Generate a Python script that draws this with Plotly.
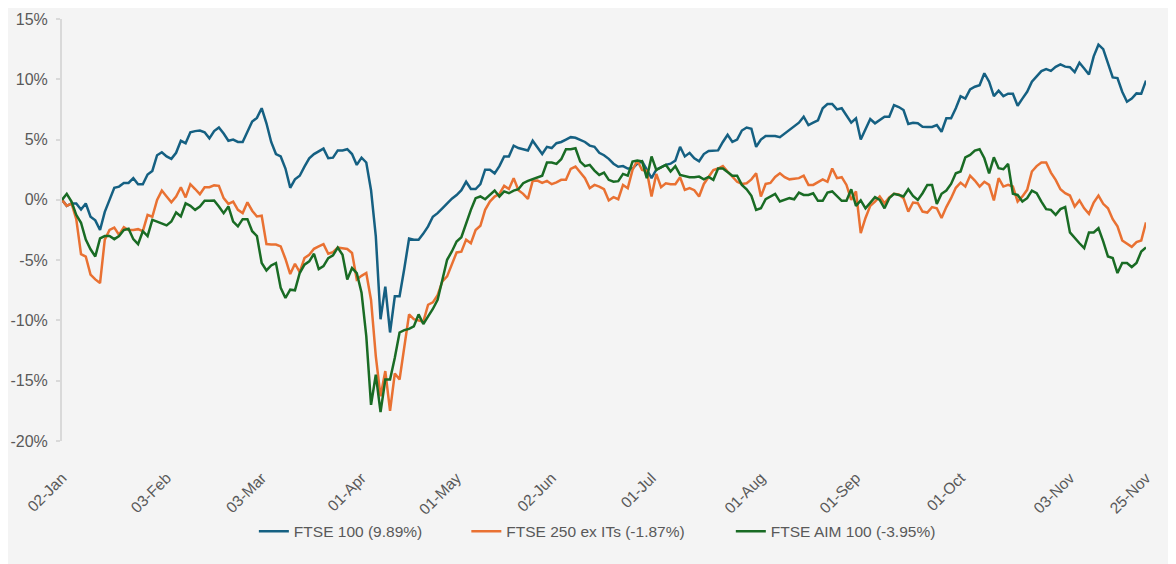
import pandas as pd
import plotly.graph_objects as go

# trading days 2025 (UK), 02-Jan .. 25-Nov
holidays = ["2025-04-18", "2025-04-21", "2025-05-05", "2025-05-26", "2025-08-25"]
days = pd.bdate_range("2025-01-02", "2025-11-25")
days = days[~days.isin(pd.to_datetime(holidays))]
dates = days.strftime("%d-%b").tolist()

tick_labels = ["02-Jan", "03-Feb", "03-Mar", "01-Apr", "01-May", "02-Jun",
               "01-Jul", "01-Aug", "01-Sep", "01-Oct", "03-Nov", "25-Nov"]

y_ticks = [-20, -15, -10, -5, 0, 5, 10, 15]
y_tick_labels = [f"{v}%" for v in y_ticks]

# cumulative % change since 02-Jan
ftse100 = [
    0.0, -0.5, -0.3, -0.3, -0.8, -0.3, -1.4, -1.7, -2.5, -1.0,
    0.0, 1.0, 1.1, 1.4, 1.4, 1.8, 1.3, 1.3, 2.1, 2.4,
    3.7, 3.95, 3.6, 3.4, 3.9, 4.9, 4.7, 5.6, 5.7, 5.75,
    5.6, 5.1, 5.7, 6.0, 5.5, 4.9, 5.0, 4.8, 4.8, 5.6,
    6.5, 6.8, 7.6, 6.35, 4.8, 3.8, 3.6, 2.6, 1.0, 1.7,
    2.0, 2.76, 3.45, 3.8, 4.05, 4.25, 3.45, 3.5, 4.1, 4.1,
    4.2, 3.8, 2.9, 3.5, 3.1, 0.8, -3.0, -9.9, -7.2, -11.0,
    -8.0, -8.0, -5.7, -3.2, -3.3, -3.3, -2.8, -2.2, -1.4, -1.1,
    -0.7, -0.3, 0.1, 0.4, 0.8, 1.5, 0.9, 0.9, 1.3, 2.5,
    2.5, 2.2, 2.8, 3.6, 3.6, 4.5, 4.3, 4.2, 4.1, 4.9,
    4.3, 3.8, 4.4, 4.3, 4.7, 4.8, 5.0, 5.2, 5.15, 5.0,
    4.8, 4.5, 4.4, 3.9, 3.7, 3.4, 3.0, 2.75, 2.8, 2.6,
    2.6, 3.0, 3.2, 2.5, 1.8, 2.5, 2.7, 2.9, 3.0, 3.25,
    4.4, 3.6, 3.9, 3.45, 3.2, 3.8, 4.05, 4.1, 4.1, 4.8,
    5.4, 4.8, 5.0, 5.75, 6.0, 5.9, 4.4, 5.0, 5.3, 5.3,
    5.3, 5.2, 5.5, 5.8, 6.1, 6.4, 6.9, 6.2, 6.4, 6.6,
    7.6, 7.95, 7.95, 7.5, 7.6, 7.0, 6.4, 6.76, 5.0, 5.85,
    6.7, 6.35, 6.6, 6.9, 6.9, 7.86, 7.7, 7.45, 6.3, 6.4,
    6.35, 6.07, 6.05, 6.05, 6.2, 5.65, 6.76, 6.76, 7.6, 8.6,
    8.4, 9.16, 9.38, 9.5, 10.5, 9.8, 8.6, 9.05, 8.6, 8.8,
    8.8, 7.8, 8.4, 8.96, 9.8, 10.2, 10.68, 10.85, 10.7, 11.03,
    11.23, 11.05, 11.0, 10.6, 11.37, 10.9, 10.4, 11.9, 12.87, 12.5,
    11.3, 10.15, 10.1, 8.97, 8.14, 8.4, 8.83, 8.8, 9.89,
]

ftse250_ex_its = [
    0.0, -0.5, -0.3, -1.6, -4.5, -4.7, -6.2, -6.6, -6.9, -3.3,
    -2.5, -2.3, -2.9, -2.26, -2.5, -2.5, -2.43, -2.6, -1.24, -1.4,
    0.0, 0.77, 0.28, -0.2, 0.28, 1.05, 0.2, 1.3, 0.9, 0.47,
    1.05, 1.05, 1.2, 1.16, 0.14, -0.33, -0.14, -0.83, -1.1, -0.2,
    -0.9, -1.38, -1.32, -3.67, -3.7, -3.7, -3.86, -4.9, -6.15, -5.3,
    -6.0, -4.83, -4.55, -4.06, -3.86, -3.67, -4.47, -4.33, -3.95, -4.0,
    -4.08, -4.4, -6.6, -6.3, -6.07, -8.3, -12.96, -16.3, -14.2, -17.5,
    -14.4, -14.9, -12.1, -9.5, -9.9, -10.0, -10.1, -8.7, -8.5, -7.9,
    -6.76, -6.35, -5.4, -4.36, -4.3, -3.3, -3.6, -2.5, -2.15, -0.83,
    -0.14, 0.27, 0.5, 1.16, 0.9, 1.8, 0.8, 0.5, 0.08, 1.57,
    1.6, 1.4, 1.57, 1.3, 1.45, 1.66, 1.66, 2.57, 2.76, 2.3,
    1.8, 0.97, 1.24, 1.1, 0.88, -0.05, 0.22, 0.05, 1.24, 0.97,
    2.48, 3.26, 2.48, 2.4, 0.28, 2.15, 1.05, 1.38, 1.3, 1.3,
    1.88, 0.83, 0.97, 0.8, 0.28, 1.32, 1.88, 2.48, 2.6, 2.8,
    2.35, 1.88, 1.5, 1.32, 1.38, 1.7, 2.2, 0.28, 1.32, 1.4,
    1.9, 2.2, 1.88, 1.7, 1.75, 1.8, 2.0, 1.24, 1.24, 1.5,
    1.7, 1.5, 2.6, 1.8, 1.88, 1.24, 0.0, 0.7, -2.76, -1.5,
    -0.5, -0.14, 0.28, -0.28, 0.2, 0.5, 0.45, 0.14, -0.97, -0.22,
    -0.28, -0.97, -1.05, -0.6, -0.7, -1.5, -0.6, 0.14, 1.0, 1.43,
    1.1, 2.0, 1.6, 1.1, 1.5, 1.24, -0.05, 1.8, 1.1, 1.24,
    1.1, -0.14, 0.28, 0.83, 2.35, 2.8, 3.1, 3.1, 2.26, 1.66,
    0.88, 0.55, 0.36, -0.55, -0.05, -0.7, -1.16, -0.22, 0.36, -0.33,
    -0.7, -1.6, -2.2, -3.37, -3.6, -3.9, -3.5, -3.37, -1.87,
]

ftse_aim100 = [
    0.0, 0.5, -0.14, -1.24, -1.9, -3.3, -4.1, -4.7, -3.2, -3.0,
    -3.0, -3.26, -3.0, -2.5, -2.4, -3.26, -3.67, -2.6, -3.0, -1.66,
    -1.8, -1.93, -2.12, -1.8, -1.05, -1.38, -0.28, -0.5, -0.83, -0.55,
    -0.08, -0.08, -0.05, -0.55, -1.1, -0.55, -1.8, -2.2, -1.6, -1.6,
    -2.6, -3.0, -5.24, -5.85, -5.44, -5.24, -7.3, -8.14, -7.45, -7.5,
    -6.07, -5.38, -5.1, -4.47, -5.74, -5.5, -4.83, -4.6, -3.95, -4.55,
    -6.6, -5.66, -6.07, -7.7, -11.3, -17.0, -14.5, -17.6, -14.9, -14.9,
    -13.1, -11.0, -10.8, -10.7, -10.5, -9.5, -10.3, -9.66, -9.05, -8.3,
    -6.6, -4.97, -4.28, -3.45, -3.1, -1.93, -0.83, 0.14, 0.28, 0.05,
    0.41, 0.77, 0.28, 0.7, 0.55, 0.77, 0.88, 1.38, 1.57, 1.7,
    1.85, 2.0, 3.1, 3.1, 2.98, 3.37, 4.2, 4.2, 4.28, 3.17,
    2.8, 2.9, 2.43, 2.07, 2.26, 1.66, 1.5, 1.55, 2.15, 2.0,
    3.17, 3.26, 3.2, 1.8, 3.6, 2.48, 2.7, 2.9, 2.35, 2.8,
    2.07, 2.0, 1.88, 1.88, 1.93, 1.7, 1.9, 1.66, 2.6, 2.6,
    2.26, 2.0, 2.0, 1.24, 0.88, 0.33, -0.83, -0.7, 0.05, 0.28,
    0.5, -0.14, 0.0, 0.14, 0.05, 0.6, 0.41, 0.41, 0.55, -0.08,
    -0.08, 0.6, 0.7, 0.33, -0.08, -0.08, 0.88, -0.5, -0.05, -0.7,
    -0.22, 0.22, 0.0, -0.7, 0.14, 0.5, 0.41, 0.28, 0.88, 0.33,
    0.0, 0.55, 1.24, 1.24, -0.33, 0.5, 0.77, 1.32, 2.2, 2.35,
    3.53, 3.73, 4.08, 4.2, 3.45, 2.2, 3.53, 2.62, 2.54, 2.98,
    0.5, 0.41, -0.14, 0.14, 0.77, 0.55, -0.14, -0.77, -0.83, -1.24,
    -0.77, -0.6, -2.7, -3.17, -3.6, -4.0, -2.7, -2.7, -2.35, -3.45,
    -4.7, -4.83, -6.07, -5.24, -5.24, -5.57, -5.24, -4.28, -3.95,
]

x = list(range(len(dates)))
tick_pos = [dates.index(t) for t in tick_labels]

grey = "#d9d9d9"
text_col = "#595959"
bg = "#f4f4f4"

series = [
    ("FTSE 100", ftse100, "#156082", "legend"),
    ("FTSE 250 ex ITs", ftse250_ex_its, "#E97132", "legend2"),
    ("FTSE AIM 100", ftse_aim100, "#196B24", "legend3"),
]

fig = go.Figure()
for name, vals, col, leg in series:
    fig.add_trace(go.Scatter(
        x=x, y=vals, mode="lines",
        name=f"{name} ({vals[-1]:.2f}%)",
        line=dict(color=col, width=2.5),
        legend=leg,
    ))

# the page puts the figure 8px in from the top-left corner
leg_style = dict(orientation="h", xanchor="left", y=-0.215, yanchor="middle",
                 font=dict(size=15.5, color=text_col),
                 bgcolor="rgba(0,0,0,0)")

fig.update_layout(
    width=1176, height=564,
    paper_bgcolor=bg, plot_bgcolor=bg,
    margin=dict(l=54, r=38, t=11, b=131),
    font=dict(family="Liberation Sans, Arial, sans-serif", color=text_col),
    showlegend=True,
    legend=dict(x=0.177, **leg_style),
    legend2=dict(x=0.373, **leg_style),
    legend3=dict(x=0.617, **leg_style),
    xaxis=dict(range=[0, len(x) - 1], tickvals=tick_pos, ticktext=tick_labels,
               tickangle=-45, tickfont=dict(size=15.5, color=text_col),
               showgrid=False, zeroline=False, showline=False, ticks="",
               ticklabelstandoff=24, automargin=False),
    xaxis2=dict(overlaying="x", anchor="free", position=20 / 35,
                range=[0, len(x) - 1], tickvals=x[::11],
                showticklabels=False, showgrid=False, zeroline=False,
                showline=True, linecolor=grey, linewidth=2,
                ticks="outside", ticklen=5, tickwidth=2, tickcolor=grey,
                layer="below traces", automargin=False),
    yaxis=dict(range=[-20, 15], tickvals=y_ticks, ticktext=y_tick_labels,
               tickfont=dict(size=16, color=text_col),
               showgrid=False, zeroline=False,
               showline=True, linecolor=grey, linewidth=2,
               ticks="outside", ticklen=4, tickwidth=2, tickcolor=grey,
               ticklabelstandoff=5, layer="below traces", automargin=False),
)

fig.write_html("out.html")
